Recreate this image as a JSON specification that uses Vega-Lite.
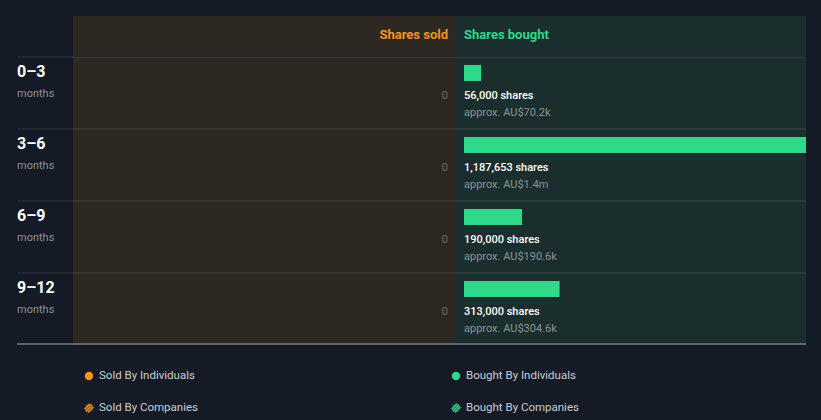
{
  "$schema": "https://vega.github.io/schema/vega-lite/v6.json",
  "background": "#151b26",
  "padding": {"top": 16, "left": 16, "right": 16, "bottom": 0},
  "spacing": 0,
  "config": {
    "view": {"stroke": null},
    "concat": {"spacing": 0},
    "font": "Roboto",
    "text": {"font": "Roboto"}
  },
  "datasets": {
    "rows": [
      {"period": "0–3", "sold": 0, "bought": 56000, "label": "56,000 shares", "value": "approx. AU$70.2k"},
      {"period": "3–6", "sold": 0, "bought": 1187653, "label": "1,187,653 shares", "value": "approx. AU$1.4m"},
      {"period": "6–9", "sold": 0, "bought": 190000, "label": "190,000 shares", "value": "approx. AU$190.6k"},
      {"period": "9–12", "sold": 0, "bought": 313000, "label": "313,000 shares", "value": "approx. AU$304.6k"}
    ],
    "legend": [
      {"side": "Sold", "kind": "Individuals", "label": "Sold By Individuals"},
      {"side": "Bought", "kind": "Individuals", "label": "Bought By Individuals"},
      {"side": "Sold", "kind": "Companies", "label": "Sold By Companies"},
      {"side": "Bought", "kind": "Companies", "label": "Bought By Companies"}
    ]
  },
  "vconcat": [
    {
      "spacing": 0,
      "bounds": "flush",
      "hconcat": [
        {
          "width": 56, "height": 40,
          "data": {"values": [{"h": ""}]},
          "mark": {"type": "text"},
          "encoding": {"text": {"field": "h"}}
        },
        {
          "width": 383, "height": 40,
          "view": {"fill": "#2d2822"},
          "data": {"values": [{"h": "Shares sold"}]},
          "mark": {"type": "text", "align": "right", "baseline": "alphabetic", "dy": 3, "fontSize": 13, "fontWeight": "bold", "color": "#f7931e"},
          "encoding": {
            "x": {"datum": 0, "type": "quantitative", "scale": {"domain": [0, 1120000], "range": [375, 0], "nice": false}, "axis": null},
            "text": {"field": "h"}
          }
        },
        {
          "width": 350, "height": 40,
          "view": {"fill": "#1b2e2e"},
          "data": {"values": [{"h": "Shares bought"}]},
          "mark": {"type": "text", "align": "left", "baseline": "alphabetic", "dy": 3, "fontSize": 13, "fontWeight": "bold", "color": "#2ed98a"},
          "encoding": {
            "x": {"datum": 0, "type": "quantitative", "scale": {"domain": [0, 1120000], "range": [8, 350], "nice": false}, "axis": null},
            "text": {"field": "h"}
          }
        }
      ]
    },
    {
      "spacing": 0,
      "bounds": "flush",
      "hconcat": [
        {
          "width": 56, "height": 288,
          "data": {"name": "rows"},
          "layer": [
            {
              "mark": {"type": "rule", "color": "#ffffff", "strokeOpacity": 0.13},
              "encoding": {"y": {"field": "period", "type": "nominal", "bandPosition": 0, "scale": {"domain": ["0–3", "3–6", "6–9", "9–12"], "paddingInner": 0, "paddingOuter": 0}, "axis": null}}
            },
            {
              "transform": [{"filter": "datum.period == '9–12'"}],
              "mark": {"type": "rule", "color": "#9aa3ab", "yOffset": -1},
              "encoding": {"y": {"field": "period", "type": "nominal", "bandPosition": 1, "axis": null}}
            },
            {
              "mark": {"type": "text", "align": "left", "baseline": "alphabetic", "dy": 20, "fontSize": 16, "fontWeight": "bold", "color": "#ffffff"},
              "encoding": {
                "x": {"value": 0},
                "y": {"field": "period", "type": "nominal", "bandPosition": 0, "axis": null},
                "text": {"field": "period"}
              }
            },
            {
              "mark": {"type": "text", "align": "left", "baseline": "alphabetic", "dy": 40, "fontSize": 11, "color": "#8a9099", "text": "months"},
              "encoding": {
                "x": {"value": 0},
                "y": {"field": "period", "type": "nominal", "bandPosition": 0, "axis": null}
              }
            }
          ]
        },
        {
          "width": 383, "height": 288,
          "view": {"fill": "#2d2822"},
          "data": {"name": "rows"},
          "layer": [
            {
              "mark": {"type": "rule", "color": "#ffffff", "strokeOpacity": 0.13},
              "encoding": {"y": {"field": "period", "type": "nominal", "bandPosition": 0, "scale": {"domain": ["0–3", "3–6", "6–9", "9–12"], "paddingInner": 0, "paddingOuter": 0}, "axis": null}}
            },
            {
              "transform": [{"filter": "datum.period == '9–12'"}],
              "mark": {"type": "rule", "color": "#9aa3ab", "yOffset": -1},
              "encoding": {"y": {"field": "period", "type": "nominal", "bandPosition": 1, "axis": null}}
            },
            {
              "mark": {"type": "text", "align": "right", "baseline": "alphabetic", "dy": 42, "fontSize": 11, "color": "#666a6c"},
              "encoding": {
                "x": {"field": "sold", "type": "quantitative", "scale": {"domain": [0, 1120000], "range": [375, 0], "nice": false}, "axis": null},
                "y": {"field": "period", "type": "nominal", "bandPosition": 0, "axis": null},
                "text": {"field": "sold", "type": "quantitative", "format": ",d"}
              }
            }
          ]
        },
        {
          "width": 350, "height": 288,
          "view": {"fill": "#1b2e2e"},
          "data": {"name": "rows"},
          "layer": [
            {
              "mark": {"type": "rule", "color": "#ffffff", "strokeOpacity": 0.13},
              "encoding": {"y": {"field": "period", "type": "nominal", "bandPosition": 0, "scale": {"domain": ["0–3", "3–6", "6–9", "9–12"], "paddingInner": 0, "paddingOuter": 0}, "axis": null}}
            },
            {
              "transform": [{"filter": "datum.period == '9–12'"}],
              "mark": {"type": "rule", "color": "#9aa3ab", "yOffset": -1},
              "encoding": {"y": {"field": "period", "type": "nominal", "bandPosition": 1, "axis": null}}
            },
            {
              "mark": {"type": "bar", "height": 16, "yOffset": -20, "color": "#2ed98a"},
              "encoding": {
                "x": {"field": "bought", "type": "quantitative", "scale": {"domain": [0, 1120000], "range": [8, 350], "clamp": true, "nice": false}, "axis": null},
                "y": {"field": "period", "type": "nominal", "axis": null}
              }
            },
            {
              "mark": {"type": "text", "align": "left", "baseline": "alphabetic", "dy": 42, "fontSize": 11, "fontWeight": 500, "color": "#ffffff"},
              "encoding": {
                "x": {"datum": 0, "type": "quantitative"},
                "y": {"field": "period", "type": "nominal", "bandPosition": 0, "axis": null},
                "text": {"field": "label"}
              }
            },
            {
              "mark": {"type": "text", "align": "left", "baseline": "alphabetic", "dy": 59, "fontSize": 11, "color": "#8b9296"},
              "encoding": {
                "x": {"datum": 0, "type": "quantitative"},
                "y": {"field": "period", "type": "nominal", "bandPosition": 0, "axis": null},
                "text": {"field": "value"}
              }
            }
          ]
        }
      ]
    },
    {
      "width": 789, "height": 76,
      "data": {"name": "legend"},
      "encoding": {
        "x": {"field": "side", "type": "nominal", "scale": {"domain": ["Sold", "Bought"], "range": [72, 439], "padding": 0}, "axis": null},
        "y": {"field": "kind", "type": "nominal", "scale": {"domain": ["Individuals", "Companies"], "range": [31, 63], "padding": 0}, "axis": null},
        "color": {"field": "side", "type": "nominal", "scale": {"domain": ["Sold", "Bought"], "range": ["#f7931e", "#2ed98a"]}, "legend": null}
      },
      "layer": [
        {
          "transform": [{"filter": "datum.kind == 'Individuals'"}],
          "mark": {"type": "point", "shape": "circle", "filled": true, "size": 70, "opacity": 1}
        },
        {
          "transform": [{"filter": "datum.kind == 'Companies'"}],
          "mark": {"type": "point", "shape": "circle", "filled": true, "size": 81, "opacity": 0.3}
        },
        {
          "transform": [{"filter": "datum.kind == 'Companies'"}],
          "mark": {"type": "point", "shape": "M-0.707,0.707L0.707,-0.707M-0.264,0.964L0.964,-0.264M-0.964,0.264L0.264,-0.964", "filled": false, "size": 81, "strokeWidth": 1.4, "opacity": 1}
        },
        {
          "mark": {"type": "text", "align": "left", "baseline": "middle", "dx": 10, "fontSize": 11.5, "color": "#c9cdd2"},
          "encoding": {"text": {"field": "label"}, "color": {"value": "#c9cdd2"}}
        }
      ]
    }
  ]
}
